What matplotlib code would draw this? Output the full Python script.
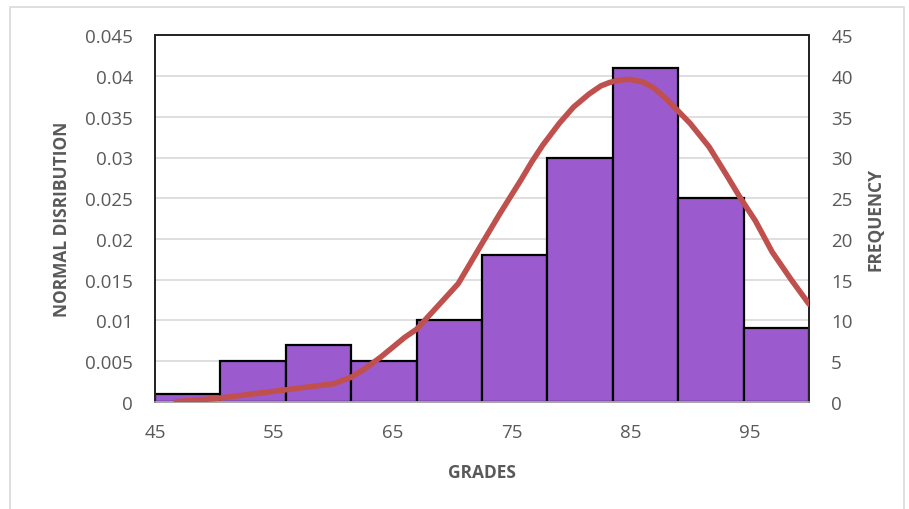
import matplotlib
matplotlib.use("Agg")
import matplotlib.pyplot as plt
from matplotlib.patches import Rectangle

# histogram bins (grades) and counts
bin_edges = [45, 50.5, 56, 61.5, 67, 72.5, 78, 83.5, 89, 94.5, 100]
frequency = [1, 5, 7, 5, 10, 18, 30, 41, 25, 9]

# normal distribution curve
curve_x = [46.8, 50.5, 60.0, 61.5, 62.8, 64.0, 65.0, 66.0, 67.0, 68.5, 70.5, 72.2,
           74.0, 75.8, 76.7, 77.6, 79.0, 80.2, 81.5, 82.5, 83.2, 84.0, 84.9, 86.0,
           86.9, 88.0, 88.8, 90.0, 91.6, 93.0, 94.2, 95.5, 96.9, 98.5, 100.0]
curve_y = [0.0, 0.00045, 0.0022, 0.0030, 0.0042, 0.0055, 0.0067, 0.0079, 0.0089,
           0.0113, 0.0145, 0.0187, 0.0231, 0.0273, 0.0295, 0.0315, 0.0342, 0.0362,
           0.0378, 0.0388, 0.0392, 0.0395, 0.0396, 0.0393, 0.0386, 0.0372, 0.0360,
           0.0342, 0.0313, 0.0280, 0.0251, 0.0222, 0.0184, 0.0150, 0.0120]

x_ticks = [45, 55, 65, 75, 85, 95]
freq_ticks = list(range(0, 50, 5))
dens_ticks = [0, 0.005, 0.01, 0.015, 0.02, 0.025, 0.03, 0.035, 0.04, 0.045]
dens_labels = ["0", "0.005", "0.01", "0.015", "0.02", "0.025", "0.03", "0.035", "0.04", "0.045"]

W, H = 909, 510
fig = plt.figure(figsize=(W / 100, H / 100), dpi=100)
plt.rcParams['font.family'] = ['Open Sans', 'DejaVu Sans']

# outer chart border
fig.patches.append(Rectangle((10 / W, -0.02), (W - 15) / W, 1 - 8 / H + 0.02,
                             transform=fig.transFigure, fill=False,
                             edgecolor='#d9d9d9', linewidth=1.2))

left, right, top, bottom = 155, 809, 36.4, 402.7
ax = fig.add_axes([left / W, 1 - bottom / H, (right - left) / W, (bottom - top) / H])
ax2 = ax.twinx()

# bars on the frequency axis (right side)
widths = [b - a for a, b in zip(bin_edges[:-1], bin_edges[1:])]
ax.bar(bin_edges[:-1], frequency, width=widths, align='edge',
       color='#9b5bce', edgecolor='black', linewidth=1.6, zorder=2)
ax.set_xlim(45, 100)
ax.set_ylim(0, 45)
ax.set_yticks(freq_ticks)
ax.grid(axis='y', color='#d9d9d9', linewidth=1.2, zorder=0)
ax.set_axisbelow(True)
ax.set_xticks(x_ticks)

# density curve on the left axis
ax2.plot(curve_x, curve_y, color='#c0504d', linewidth=4, solid_capstyle='round',
         solid_joinstyle='round', zorder=3)
ax2.set_ylim(0, 0.045)
ax2.set_yticks(dens_ticks)
ax2.set_yticklabels(dens_labels)

ax.yaxis.tick_right()
ax.yaxis.set_label_position('right')
ax2.yaxis.tick_left()
ax2.yaxis.set_label_position('left')

for a in (ax, ax2):
    a.tick_params(length=0, labelsize=13.5, labelcolor='#595959')
    for s in ('top', 'left', 'right'):
        a.spines[s].set_color('#262626')
        a.spines[s].set_linewidth(1.4)
    a.spines['bottom'].set_color('#a6a6a6')
    a.spines['bottom'].set_linewidth(1.2)
ax.tick_params(axis='x', pad=15)
ax.tick_params(axis='y', pad=16)
ax2.tick_params(axis='y', pad=16)

title_kw = dict(fontsize=12.5, fontweight='bold', color='#595959')
ax.set_xlabel('GRADES', labelpad=16, **title_kw)
ax.set_ylabel('FREQUENCY', labelpad=10, **title_kw)
ax2.set_ylabel('NORMAL DISRIBUTION', labelpad=10, **title_kw)

fig.savefig('out.png', dpi=100)
